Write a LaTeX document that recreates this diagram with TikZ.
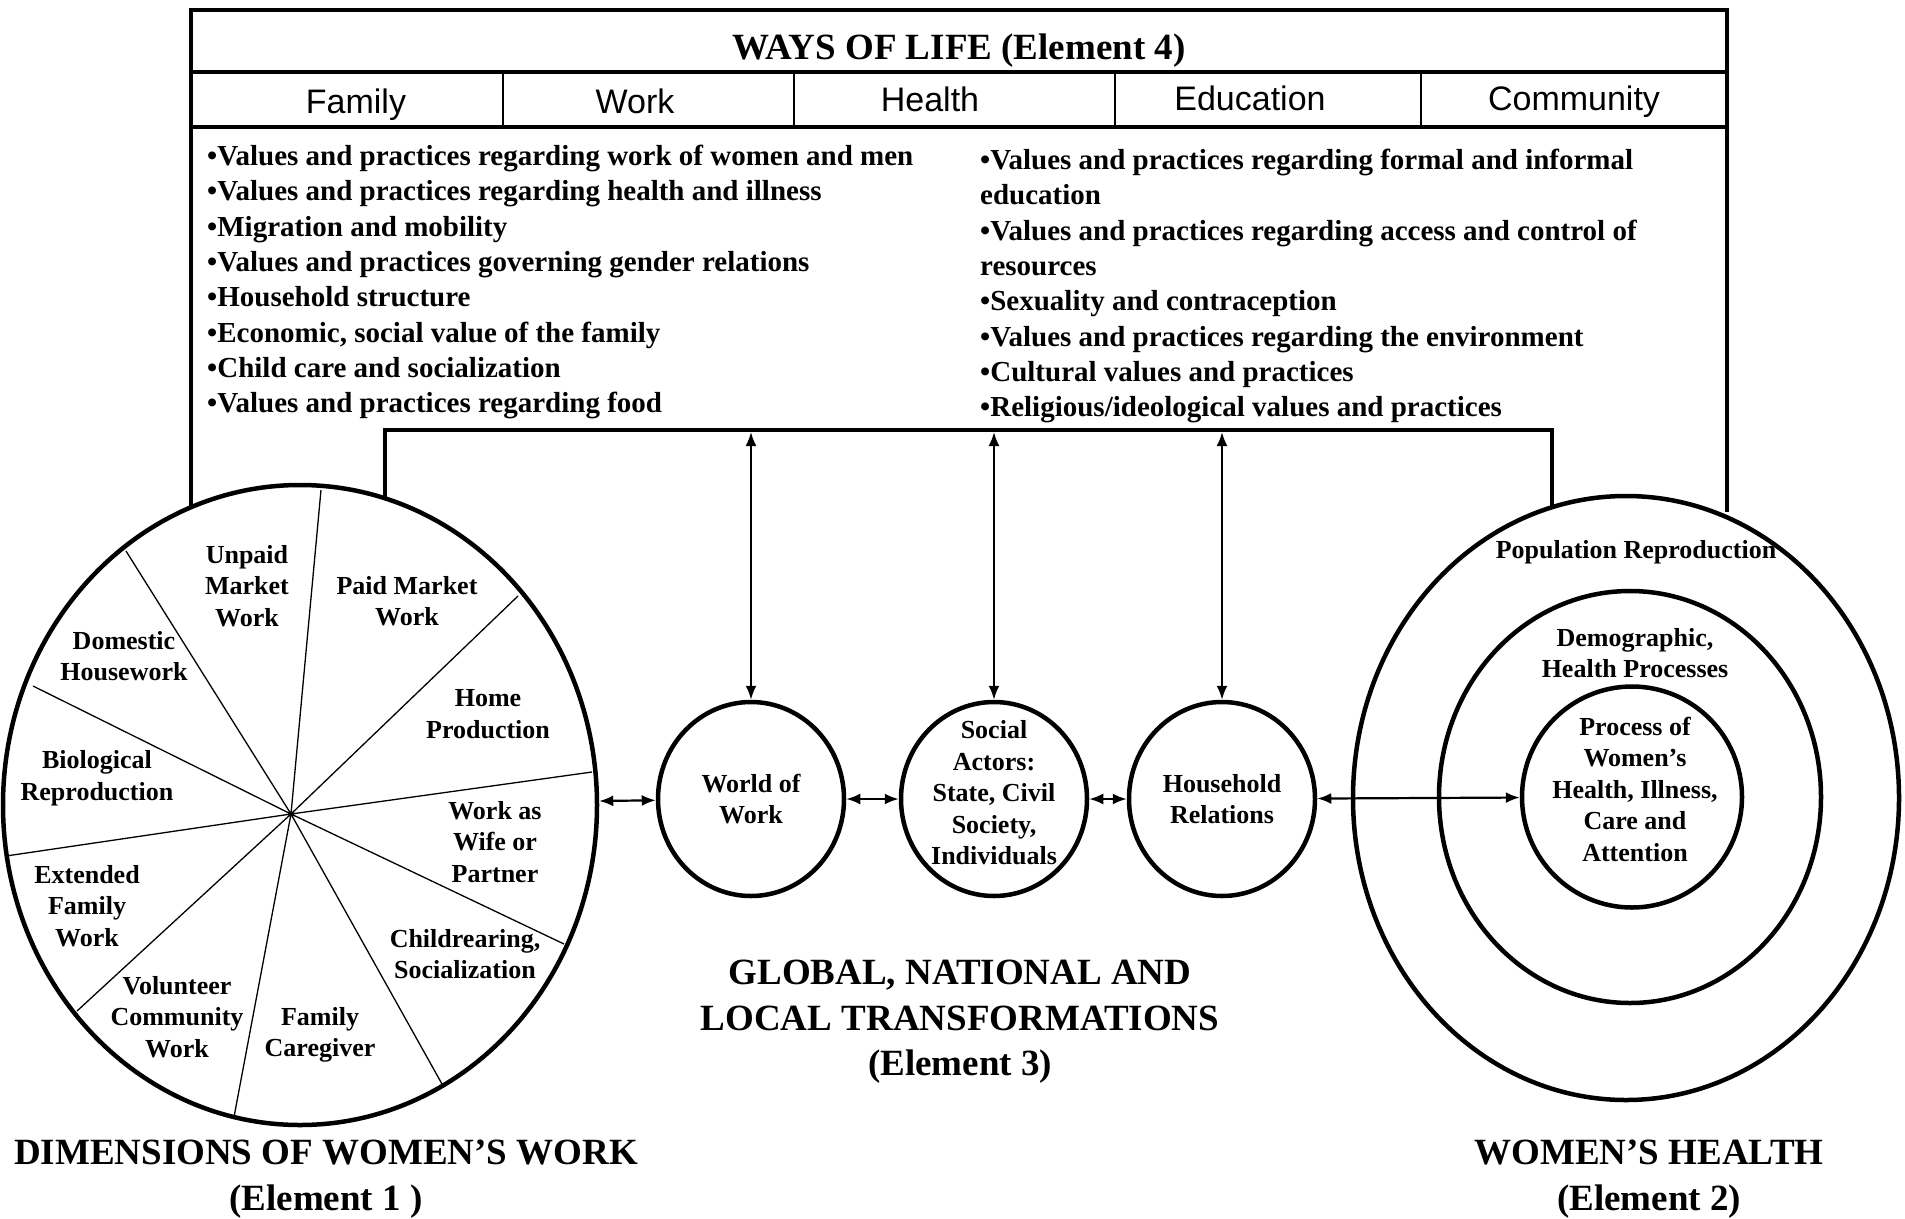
\documentclass[tikz,border=0pt]{standalone}
\usepackage{fontspec}
\setmainfont{Liberation Serif}
\setsansfont{Liberation Sans}
\usetikzlibrary{arrows.meta}
\usetikzlibrary{shapes.geometric}

\begin{document}
\begin{tikzpicture}[x=1pt, y=-1pt,
    >={Latex[length=14pt, width=11pt]},
    boxline/.style={line width=4.5pt},
    ring/.style={draw, ellipse, line width=4.5pt, inner sep=0pt},
    spoke/.style={line width=1.3pt},
    link/.style={<->, line width=2.2pt},
    heading/.style={font=\bfseries\fontsize{37}{45.5}\selectfont, align=center, inner sep=0pt},
    column/.style={font=\sffamily\fontsize{34}{40}\selectfont, inner sep=0pt},
    listtext/.style={font=\bfseries\fontsize{29}{35.3}\selectfont, align=left, inner sep=0pt},
    pietext/.style={font=\bfseries\fontsize{26}{31.5}\selectfont, align=center, inner sep=0pt}]

    \useasboundingbox (0,0) rectangle (1905,1218);

    % Ways of life box
    \draw[boxline] (191,507) -- (191,10) -- (1727,10) -- (1727,512);
    \draw[boxline] (191,72) -- (1727,72);
    \draw[boxline] (191,127) -- (1727,127);
    \draw[line width=2.5pt] (503,72) -- (503,127) (794,72) -- (794,127)
        (1115,72) -- (1115,127) (1421,72) -- (1421,127);

    \node[heading, anchor=base] (ways) at (959,59) {WAYS OF LIFE (Element 4)};

    \node[column, anchor=base] (family) at (356,113) {Family};
    \node[column, anchor=base] (work) at (635,113) {Work};
    \node[column, anchor=base] (health) at (930,111) {Health};
    \node[column, anchor=base] (education) at (1250,110) {Education};
    \node[column, anchor=base] (community) at (1574,110) {Community};

    % Values and practices
    \node[listtext, anchor=north west] (leftList) at (207,145) {%
        \textbullet Values and practices regarding work of women and men\\
        \textbullet Values and practices regarding health and illness\\
        \textbullet Migration and mobility\\
        \textbullet Values and practices governing gender relations\\
        \textbullet Household structure\\
        \textbullet Economic, social value of the family\\
        \textbullet Child care and socialization\\
        \textbullet Values and practices regarding food};
    \node[listtext, anchor=north west] (rightList) at (980,149) {%
        \textbullet Values and practices regarding formal and informal\\
        education\\
        \textbullet Values and practices regarding access and control of\\
        resources\\
        \textbullet Sexuality and contraception\\
        \textbullet Values and practices regarding the environment\\
        \textbullet Cultural values and practices\\
        \textbullet Religious/ideological values and practices};

    % Bracket over the transformations
    \draw[boxline] (385,498) -- (385,430) -- (1552,430) -- (1552,507);

    % Dimensions of women's work
    \node[ring, minimum width=594pt, minimum height=640pt] (workPie) at (300,805) {};
    \coordinate (hub) at (291,814);
    \draw[spoke] (hub) -- (321,490) (hub) -- (518,596) (hub) -- (592,772)
        (hub) -- (564,944) (hub) -- (442,1084) (hub) -- (234,1117)
        (hub) -- (77,1011) (hub) -- (6,856) (hub) -- (33,686) (hub) -- (126,551);

    \node[pietext] (unpaid) at (247,586) {Unpaid\\Market\\Work};
    \node[pietext] (paidMarket) at (407,601) {Paid Market\\Work};
    \node[pietext] (domestic) at (124,656) {Domestic\\Housework};
    \node[pietext] (homeProd) at (488,714) {Home\\Production};
    \node[pietext] (biological) at (97,778) {Biological\\Reproduction};
    \node[pietext] (wife) at (495,842) {Work as\\Wife or\\Partner};
    \node[pietext] (extended) at (87,906) {Extended\\Family\\Work};
    \node[pietext] (childrearing) at (465,954) {Childrearing,\\Socialization};
    \node[pietext] (volunteer) at (177,1017) {Volunteer\\Community\\Work};
    \node[pietext] (caregiver) at (320,1035) {Family\\Caregiver};

    % Transformations
    \node[ring, minimum width=186pt, minimum height=194pt] (world) at (751,799) {};
    \node[ring, minimum width=186pt, minimum height=194pt] (actors) at (994,799) {};
    \node[ring, minimum width=186pt, minimum height=194pt] (household) at (1222,799) {};

    \node[pietext] (worldText) at (world) {World of\\Work};
    \node[pietext] (actorsText) at (994,793) {Social\\Actors:\\State, Civil\\Society,\\Individuals};
    \node[pietext] (householdText) at (household) {Household\\Relations};

    % Women's health
    \node[ring, minimum width=546pt, minimum height=604pt] (popOuter) at (1626,798) {};
    \node[ring, minimum width=382pt, minimum height=412pt] (popMid) at (1630,797) {};
    \node[ring, minimum width=220pt, minimum height=221pt] (popInner) at (1632,797) {};

    \node[pietext] (popText) at (1636,552) {Population Reproduction};
    \node[pietext] (demoText) at (1635,653) {Demographic,\\Health Processes};
    \node[pietext] (processText) at (1635,789) {Process of\\Women’s\\Health, Illness,\\Care and\\Attention};

    % Arrows
    \coordinate (worldTop) at (751,432);
    \coordinate (actorsTop) at (994,432);
    \coordinate (householdTop) at (1222,432);
    \draw[link] (worldTop) -- (world);
    \draw[link] (actorsTop) -- (actors);
    \draw[link] (householdTop) -- (household);

    \draw[link] (workPie) -- (world);
    \draw[link] (world) -- (actors);
    \draw[link] (actors) -- (household);
    \draw[link] (household) -- (popInner);

    % Element labels
    \node[heading] (element3) at (960,1022) {GLOBAL, NATIONAL AND\\LOCAL TRANSFORMATIONS\\(Element 3)};
    \node[heading] (element1) at (326,1179) {DIMENSIONS OF WOMEN’S WORK\\(Element 1 )};
    \node[heading] (element2) at (1649,1179) {WOMEN’S HEALTH\\(Element 2)};
\end{tikzpicture}
\end{document}
